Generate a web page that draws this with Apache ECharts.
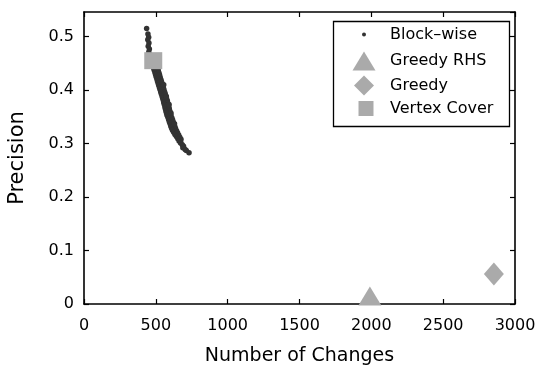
<!DOCTYPE html>
<html>
<head>
<meta charset="utf-8">
<script src="https://cdn.jsdelivr.net/npm/echarts@6/dist/echarts.min.js"></script>
<style>
  html, body { margin: 0; padding: 0; background: #fff; }
  #chart { width: 537px; height: 369px; }
</style>
</head>
<body>
<div id="chart"></div>
<script>
// Axis settings
const xTicks = [0, 500, 1000, 1500, 2000, 2500, 3000];
const yTicks = [0, 0.1, 0.2, 0.3, 0.4, 0.5];

// Series names
const seriesNames = ['Block\u2013wise', 'Greedy RHS', 'Greedy', 'Vertex Cover'];

// Block-wise runs: [number of changes, precision]
const blockWise = [
  [436, 0.515], [445, 0.505], [450, 0.499], [444, 0.494], [452, 0.488],
  [447, 0.482], [455, 0.477], [451, 0.471], [457, 0.466], [462, 0.461],
  [470, 0.457], [478, 0.452],
  [476, 0.449], [491, 0.447], [504, 0.448],
  [481, 0.445], [497, 0.443], [509, 0.444],
  [485, 0.441], [500, 0.439], [513, 0.440],
  [489, 0.437], [504, 0.435], [517, 0.436],
  [494, 0.433], [509, 0.431], [522, 0.432],
  [498, 0.429], [513, 0.427], [526, 0.428],
  [502, 0.425], [517, 0.423], [530, 0.424],
  [507, 0.421], [522, 0.419], [535, 0.420],
  [511, 0.417], [526, 0.415], [539, 0.416],
  [516, 0.413], [531, 0.411], [545, 0.412],
  [520, 0.409], [535, 0.407], [548, 0.408],
  [525, 0.405], [540, 0.403], [553, 0.404],
  [529, 0.401], [544, 0.399], [557, 0.400],
  [534, 0.397], [549, 0.395], [562, 0.396],
  [538, 0.393], [553, 0.391], [566, 0.392],
  [543, 0.389], [558, 0.387], [571, 0.388],
  [547, 0.385], [562, 0.383], [575, 0.384],
  [552, 0.381], [567, 0.379], [580, 0.380],
  [555, 0.377], [570, 0.375], [583, 0.376],
  [559, 0.373], [574, 0.371], [588, 0.372],
  [563, 0.369], [578, 0.367], [591, 0.368],
  [566, 0.365], [581, 0.363], [594, 0.364],
  [570, 0.361], [585, 0.359], [598, 0.360],
  [574, 0.357], [589, 0.355], [603, 0.356],
  [578, 0.353], [593, 0.351], [606, 0.352],
  [584, 0.349], [599, 0.347], [612, 0.348],
  [589, 0.345], [604, 0.343], [617, 0.344],
  [594, 0.341], [609, 0.339], [622, 0.340],
  [599, 0.337], [614, 0.335], [628, 0.336],
  [604, 0.333], [619, 0.331], [632, 0.332],
  [609, 0.329], [624, 0.327], [637, 0.328],
  [616, 0.325], [631, 0.323], [644, 0.324],
  [624, 0.321], [639, 0.319], [651, 0.320],
  [633, 0.317], [647, 0.315], [659, 0.316],
  [643, 0.313], [656, 0.311], [667, 0.312],
  [653, 0.309], [665, 0.307], [675, 0.308],
  [662, 0.305], [673, 0.303],
  [672, 0.301], [684, 0.298], [693, 0.295],
  [688, 0.292], [704, 0.289], [712, 0.287],
  [731, 0.283],
  [555, 0.410], [573, 0.388], [592, 0.373], [605, 0.357], [630, 0.337]
];

// Single-run methods: [number of changes, precision]
const greedyRHS = [[1990, 0.015]];
const greedy = [[2853, 0.056]];
const vertexCover = [[482, 0.455]];

const markerGray = '#aaaaaa';
const dotColor = '#333333';
const fontFamily = 'DejaVu Sans';

const chart = echarts.init(document.getElementById('chart'), null, { renderer: 'canvas' });

const lineStyle = { color: '#000', width: 1.6 };
const tickStyle = { color: '#000', width: 1.2 };

const baseX = {
  type: 'value', min: xTicks[0], max: xTicks[xTicks.length - 1],
  interval: xTicks[1] - xTicks[0],
  axisLine: { show: true, onZero: false, lineStyle: lineStyle },
  axisTick: { show: true, inside: true, length: 5, lineStyle: tickStyle },
  splitLine: { show: false }
};
const baseY = {
  type: 'value', min: yTicks[0], max: 0.546,
  interval: yTicks[1] - yTicks[0],
  axisLine: { show: true, onZero: false, lineStyle: lineStyle },
  axisTick: { show: true, inside: true, length: 5, lineStyle: tickStyle },
  splitLine: { show: false }
};

// one legend per row so each icon keeps its own size; text starts at x = 390
function legendFor(name, center, w, h, rowY) {
  const left = center - w / 2;
  const pad = 390 - (left + w + 5);
  return {
    data: [name], left: left, top: rowY - Math.max(h, 19) / 2, orient: 'vertical',
    padding: 0, itemWidth: w, itemHeight: h, itemGap: 0,
    selectedMode: false,
    itemStyle: { opacity: 1 },
    textStyle: { fontFamily: fontFamily, fontSize: 16, color: '#000', padding: [0, 0, 0, pad] }
  };
}

chart.setOption({
  animation: false,
  backgroundColor: '#fff',
  grid: { left: 84, right: 22, top: 12, bottom: 65, containLabel: false, outerBoundsMode: 'none' },
  xAxis: [
    Object.assign({}, baseX, {
      position: 'bottom',
      axisLabel: { color: '#000', fontFamily: fontFamily, fontSize: 16, margin: 14,
        formatter: v => (xTicks.indexOf(v) >= 0 ? String(v) : '') },
      name: 'Number of Changes', nameLocation: 'middle', nameGap: 43,
      nameTextStyle: { color: '#000', fontFamily: fontFamily, fontSize: 19 }
    }),
    Object.assign({}, baseX, { position: 'top', axisLabel: { show: false } })
  ],
  yAxis: [
    Object.assign({}, baseY, {
      position: 'left',
      axisLabel: { color: '#000', fontFamily: fontFamily, fontSize: 16, margin: 10,
        showMaxLabel: false,
        formatter: v => {
          const t = yTicks.find(k => Math.abs(k - v) < 1e-9);
          return t === undefined ? '' : String(t);
        } },
      name: 'Precision', nameLocation: 'middle', nameGap: 56,
      nameTextStyle: { color: '#000', fontFamily: fontFamily, fontSize: 21 }
    }),
    Object.assign({}, baseY, { position: 'right', axisLabel: { show: false } })
  ],
  legend: [
    legendFor(seriesNames[0], 364, 4, 4, 36),
    legendFor(seriesNames[1], 364, 23, 19, 61),
    legendFor(seriesNames[2], 364, 20, 20, 85.5),
    legendFor(seriesNames[3], 366, 15, 15, 110)
  ],
  graphic: [{
    type: 'rect', left: 331, top: 19, z: 10,
    shape: { width: 176, height: 105 },
    style: { fill: 'none', stroke: '#000', lineWidth: 1.3 }
  }],
  series: [
    {
      name: seriesNames[0], type: 'scatter', data: blockWise,
      symbol: 'circle', symbolSize: 5.5,
      itemStyle: { color: dotColor, opacity: 1 }, z: 3
    },
    {
      name: seriesNames[1], type: 'scatter', data: greedyRHS,
      symbol: 'triangle', symbolSize: [23, 19],
      itemStyle: { color: markerGray, opacity: 1 }, z: 4
    },
    {
      name: seriesNames[2], type: 'scatter', data: greedy,
      symbol: 'diamond', symbolSize: [20, 23],
      itemStyle: { color: markerGray, opacity: 1 }, z: 4
    },
    {
      name: seriesNames[3], type: 'scatter', data: vertexCover,
      symbol: 'rect', symbolSize: [18, 17],
      itemStyle: { color: markerGray, opacity: 1 }, z: 4
    }
  ]
});
</script>
</body>
</html>
